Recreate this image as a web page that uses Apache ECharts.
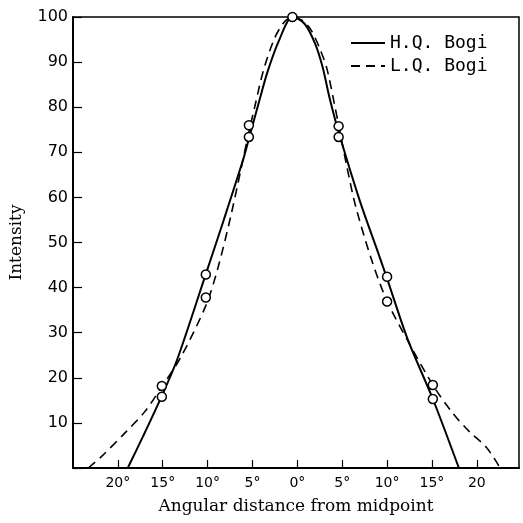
<!DOCTYPE html>
<html>
<head>
<meta charset="utf-8">
<script src="https://cdn.jsdelivr.net/npm/echarts@6/dist/echarts.min.js"></script>
<style>
html,body{margin:0;padding:0;background:#fff;}
#chart{width:523px;height:523px;}
</style>
</head>
<body>
<div id="chart"></div>
<script>
// Curve: H.Q. Bogi (solid)
var hqBogi = [
  [-18.9, 0], [-17.2, 7], [-15.1, 16], [-13.4, 24], [-10.2, 43], [-8.2, 55],
  [-6.1, 68], [-5.4, 73], [-4.3, 81], [-3.3, 88], [-2.0, 95], [-0.55, 100],
  [0.8, 98.5], [2.0, 94], [2.8, 89], [3.6, 82], [4.6, 74.5], [7.0, 59],
  [8.9, 48.3], [10.0, 42], [12.3, 28.5], [15.1, 15.3], [18.0, 0]
];
// Curve: L.Q. Bogi (dashed)
var lqBogi = [
  [-23.3, 0], [-21.9, 2.4], [-19.1, 8], [-17.0, 12.5], [-15.1, 18], [-13.0, 24.5],
  [-10.2, 36], [-8.9, 44], [-7.4, 56], [-5.4, 74.5], [-4.7, 80.5], [-3.8, 88],
  [-2.6, 95], [-1.5, 98.8], [-0.55, 100], [0.5, 99.3], [1.5, 97.2], [2.5, 93],
  [3.3, 88.5], [4.1, 81], [4.6, 76], [5.5, 67], [6.5, 58], [8.3, 46],
  [10.0, 37], [12.5, 27.5], [15.1, 18.4], [17.3, 12.2], [19.2, 8], [21.1, 4.5], [22.6, 0]
];
// Observed points (open circles)
var observed = [
  [-0.55, 100], [-5.4, 76], [-5.4, 73.4], [4.6, 75.8], [4.6, 73.4],
  [-10.2, 42.9], [-10.2, 37.8], [10.0, 42.4], [10.0, 36.9],
  [-15.1, 18.2], [-15.1, 15.8], [15.1, 18.4], [15.1, 15.3]
];
var seriesNames = ['H.Q. Bogi', 'L.Q. Bogi'];
var xTickValues = [-20, -15, -10, -5, 0, 5, 10, 15, 20];
var xTickLabels = ['20°', '15°', '10°', '5°', '0°', '5°', '10°', '15°', '20'];
var yTickValues = [10, 20, 30, 40, 50, 60, 70, 80, 90, 100];
var yTickLabels = ['10', '20', '30', '40', '50', '60', '70', '80', '90', '100'];
var xTitle = 'Angular distance from midpoint';
var yTitle = 'Intensity';

var chart = echarts.init(document.getElementById('chart'), null, {renderer: 'canvas'});
chart.setOption({
  animation: false,
  backgroundColor: '#fff',
  grid: {
    left: 72, right: 4, top: 17, bottom: 55,
    show: true, borderColor: '#000', borderWidth: 1.5, backgroundColor: 'transparent'
  },
  legend: {
    orient: 'vertical',
    left: 345, top: 29,
    itemWidth: 34, itemHeight: 14, itemGap: 5,
    data: seriesNames,
    itemStyle: {opacity: 0},
    textStyle: {fontFamily: 'DejaVu Sans Mono', fontSize: 18, color: '#000'}
  },
  xAxis: {
    type: 'value', min: -25, max: 24.7, interval: 5,
    name: xTitle, nameLocation: 'middle', nameGap: 30,
    nameTextStyle: {fontFamily: 'DejaVu Serif', fontSize: 17, color: '#000'},
    axisLine: {show: true, onZero: false, lineStyle: {color: '#000', width: 2}},
    axisTick: {show: true, inside: true, length: 8, lineStyle: {color: '#000', width: 1.2}},
    splitLine: {show: false},
    axisLabel: {
      margin: 8, color: '#000', fontFamily: 'DejaVu Sans', fontSize: 14,
      showMinLabel: false, showMaxLabel: false,
      formatter: function (v) {
        var i = xTickValues.indexOf(Math.round(v));
        return i >= 0 ? xTickLabels[i] : '';
      }
    }
  },
  yAxis: {
    type: 'value', min: 0, max: 100, interval: 10,
    name: yTitle, nameLocation: 'middle', nameGap: 48,
    nameTextStyle: {fontFamily: 'DejaVu Serif', fontSize: 17, color: '#000'},
    axisLine: {show: true, onZero: false, lineStyle: {color: '#000', width: 2}},
    axisTick: {show: true, inside: true, length: 9, lineStyle: {color: '#000', width: 1.2}},
    splitLine: {show: false},
    axisLabel: {
      margin: 5, color: '#000', fontFamily: 'DejaVu Sans', fontSize: 16,
      formatter: function (v) {
        var i = yTickValues.indexOf(Math.round(v));
        return i >= 0 ? yTickLabels[i] : '';
      }
    }
  },
  series: [
    {
      name: seriesNames[0], type: 'line', data: hqBogi, smooth: 0.3,
      symbol: 'none', z: 3,
      lineStyle: {color: '#000', width: 2, type: 'solid'},
      itemStyle: {color: '#000'}
    },
    {
      name: seriesNames[1], type: 'line', data: lqBogi, smooth: 0.3,
      symbol: 'none', z: 2,
      lineStyle: {color: '#000', width: 1.6, type: [9, 6]},
      itemStyle: {color: '#000'}
    },
    {
      name: 'observed', type: 'scatter', data: observed, z: 5,
      symbol: 'circle', symbolSize: 9,
      itemStyle: {color: '#fff', borderColor: '#000', borderWidth: 1.5, opacity: 1}
    }
  ]
});
</script>
</body>
</html>
